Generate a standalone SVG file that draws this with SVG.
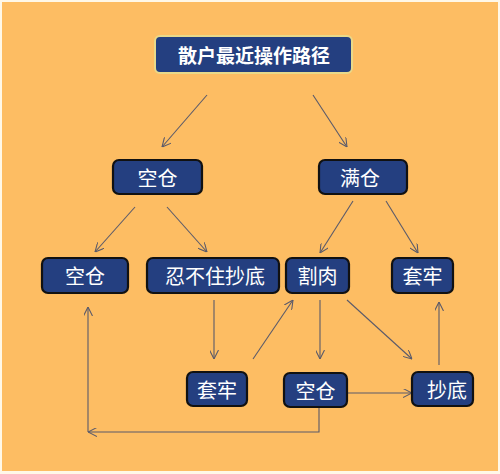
<svg xmlns="http://www.w3.org/2000/svg" width="500" height="474" viewBox="0 0 500 474">
<style>
.box{fill:#243f80;stroke:#111;stroke-width:2.2}
.title{fill:#243f80;stroke:#e9d98a;stroke-width:2}
.t{fill:#fff;font-family:"Noto Sans CJK SC",sans-serif;font-size:20px;text-anchor:middle;dominant-baseline:central}
.tt{fill:#fff;font-family:"Noto Sans CJK SC",sans-serif;font-size:19px;font-weight:bold;text-anchor:middle;dominant-baseline:central}
.c{fill:none;stroke:#5a5a6a;stroke-width:1.1}
</style>
<defs>
<marker id="a" viewBox="0 0 10 10" refX="10" refY="5" markerWidth="9" markerHeight="9" markerUnits="userSpaceOnUse" orient="auto">
<path d="M0,0 L10,5 L0,10" fill="none" stroke="#5a5a6a" stroke-width="1.2"/>
</marker>
</defs>
<rect x="0" y="0" width="500" height="474" fill="#fff8e8"/>
<rect x="2" y="2" width="496" height="469" fill="#fdbd63"/>
<g id="connectors">
<line class="c" x1="207" y1="95" x2="162" y2="147" marker-end="url(#a)"/>
<line class="c" x1="313" y1="95" x2="347" y2="147" marker-end="url(#a)"/>
<line class="c" x1="135" y1="207" x2="95" y2="252" marker-end="url(#a)"/>
<line class="c" x1="167" y1="207" x2="207" y2="252" marker-end="url(#a)"/>
<line class="c" x1="353" y1="201" x2="320" y2="253" marker-end="url(#a)"/>
<line class="c" x1="386" y1="201" x2="418" y2="253" marker-end="url(#a)"/>
<line class="c" x1="214" y1="300" x2="214" y2="359" marker-end="url(#a)"/>
<line class="c" x1="253" y1="359" x2="293" y2="300" marker-end="url(#a)"/>
<line class="c" x1="320" y1="300" x2="320" y2="359" marker-end="url(#a)"/>
<line class="c" x1="347" y1="300" x2="412" y2="359" marker-end="url(#a)"/>
<line class="c" x1="439" y1="365" x2="439" y2="302" marker-end="url(#a)"/>
<line class="c" x1="347" y1="393" x2="412" y2="393" marker-end="url(#a)"/>
<path class="c" d="M319,407 V432 H88" marker-end="url(#a)"/>
<line class="c" x1="88" y1="432" x2="88" y2="307" marker-end="url(#a)"/>
</g>
<g id="title"><rect class="title" x="155" y="36" width="197" height="37" rx="5"/><text class="tt" x="254" y="54.5">散户最近操作路径</text></g>
<g id="kongcang1"><rect class="box" x="113" y="160" width="89" height="34" rx="6"/><text class="t" x="157.5" y="177">空仓</text></g>
<g id="mancang"><rect class="box" x="319" y="160" width="88" height="34" rx="6"/><text class="t" x="360" y="177">满仓</text></g>
<g id="kongcang2"><rect class="box" x="42" y="258" width="86" height="35" rx="6"/><text class="t" x="85" y="275.5">空仓</text></g>
<g id="renbuzhu"><rect class="box" x="147" y="258" width="132" height="35" rx="6"/><text class="t" x="215" y="275.5">忍不住抄底</text></g>
<g id="gerou"><rect class="box" x="286" y="258" width="63" height="35" rx="6"/><text class="t" x="317.5" y="275.5">割肉</text></g>
<g id="taolao1"><rect class="box" x="392" y="258" width="61" height="35" rx="6"/><text class="t" x="422.5" y="275.5">套牢</text></g>
<g id="taolao2"><rect class="box" x="187" y="372" width="60" height="34" rx="6"/><text class="t" x="217" y="389">套牢</text></g>
<g id="kongcang3"><rect class="box" x="284" y="373" width="63" height="34" rx="6"/><text class="t" x="315.5" y="390">空仓</text></g>
<g id="chaodi"><rect class="box" x="412" y="372" width="61" height="34" rx="6"/><text class="t" x="447" y="389">抄底</text></g>
</svg>
